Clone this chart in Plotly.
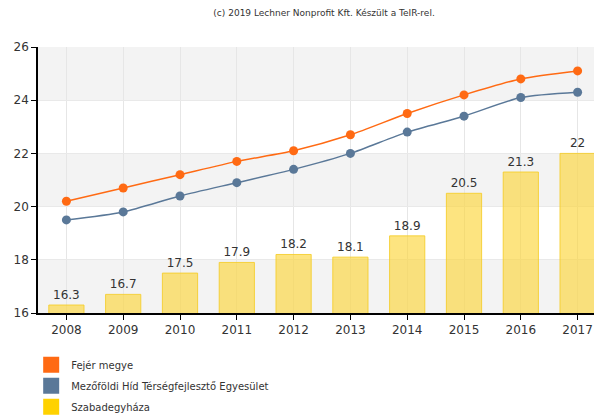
import plotly.graph_objects as go

years = ["2008", "2009", "2010", "2011", "2012", "2013", "2014", "2015", "2016", "2017"]
fejer = [20.2, 20.7, 21.2, 21.7, 22.1, 22.7, 23.5, 24.2, 24.8, 25.1]
mezofoldi = [19.5, 19.8, 20.4, 20.9, 21.4, 22.0, 22.8, 23.4, 24.1, 24.3]
szabadegyhaza = [16.3, 16.7, 17.5, 17.9, 18.2, 18.1, 18.9, 20.5, 21.3, 22]
bar_labels = ["16.3", "16.7", "17.5", "17.9", "18.2", "18.1", "18.9", "20.5", "21.3", "22"]

names = ["Fejér megye", "Mezőföldi Híd Térségfejlesztő Egyesület", "Szabadegyháza"]
colors = ["#ff6a13", "#5a7898", "#ffd200"]

FONT = "DejaVu Sans"

fig = go.Figure()

fig.add_trace(go.Bar(
    x=years, y=szabadegyhaza,
    text=bar_labels, textposition="outside",
    textfont=dict(size=12, color="#333333", family=FONT),
    marker=dict(color="rgba(252,214,60,0.65)",
                line=dict(color="rgba(245,205,40,0.85)", width=1)),
    width=0.62, showlegend=False, cliponaxis=False,
))
for vals, col in [(mezofoldi, colors[1]), (fejer, colors[0])]:
    fig.add_trace(go.Scatter(
        x=years, y=vals, mode="lines+markers",
        line=dict(color=col, width=1.5, shape="spline", smoothing=0.7),
        marker=dict(color=col, size=9),
        showlegend=False,
    ))

# legend swatches
for i, (n, c) in enumerate(zip(names, colors)):
    fig.add_trace(go.Scatter(
        x=[None], y=[None], mode="markers", name=n,
        marker=dict(symbol="square", size=16, color=c),
        legendgroup=str(i),
    ))

# alternating horizontal bands
for lo in [16, 20, 24]:
    fig.add_shape(type="rect", xref="paper", yref="y", x0=0, x1=1,
                  y0=lo, y1=lo + 2, fillcolor="#f3f3f3", line_width=0,
                  layer="below")

# page body adds an 8px offset, compensated in the margins
fig.update_layout(
    width=602, height=418,
    margin=dict(l=30, r=4, t=39, b=113, autoexpand=False),
    paper_bgcolor="white", plot_bgcolor="white",
    font=dict(family=FONT, size=12, color="#333333"),
    title=dict(text="(c) 2019 Lechner Nonprofit Kft. Készült a TeIR-rel.",
               x=0.525, xanchor="center", y=0.997, yanchor="top",
               font=dict(size=9, color="#333333")),
    legend=dict(x=-0.012, y=-0.14, xanchor="left", yanchor="top",
                orientation="v", font=dict(size=10, color="#333333"),
                tracegroupgap=2, itemwidth=30),
)
fig.update_xaxes(
    range=[-0.5, 9.5], showgrid=True, gridcolor="#e6e6e6",
    showline=True, linecolor="black", linewidth=1.5,
    ticks="outside", ticklen=5, tickcolor="black",
    tickfont=dict(size=12), fixedrange=True,
)
fig.update_yaxes(
    range=[16, 26], dtick=2, showgrid=True, gridcolor="#e9e9e9",
    showline=True, linecolor="black", linewidth=1.5,
    ticks="outside", ticklen=5, tickcolor="black",
    tickfont=dict(size=12), zeroline=False,
)

fig.write_html("out.html")
